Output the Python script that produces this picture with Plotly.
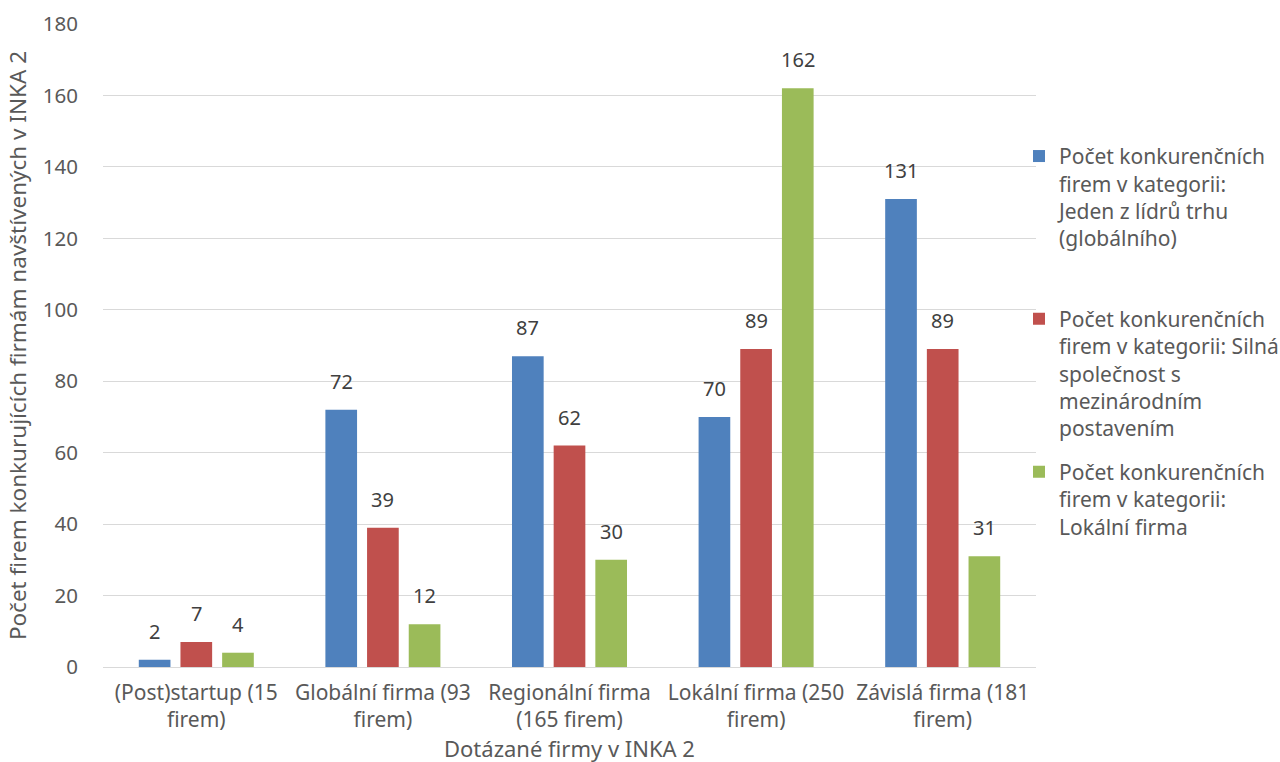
import plotly.graph_objects as go

# Categories of surveyed firms and counts of competing firms per category
categories = [
    "(Post)startup (15<br>firem)",
    "Globální firma (93<br>firem)",
    "Regionální firma<br>(165 firem)",
    "Lokální firma (250<br>firem)",
    "Závislá firma (181<br>firem)",
]
series_names = [
    "Počet konkurenčních<br>firem v kategorii:<br>Jeden z lídrů trhu<br>(globálního)",
    "Počet konkurenčních<br>firem v kategorii: Silná<br>společnost s<br>mezinárodním<br>postavením",
    "Počet konkurenčních<br>firem v kategorii:<br>Lokální firma",
]
leaders = [2, 72, 87, 70, 131]
strong_intl = [7, 39, 62, 89, 89]
local = [4, 12, 30, 162, 31]

x_title = "Dotázané firmy v INKA 2"
y_title = "Počet firem konkurujících firmám navštívených v INKA 2"

colors = ["#4F81BD", "#C0504D", "#9BBB59"]
values = [leaders, strong_intl, local]
legend_ids = ["legend", "legend2", "legend3"]
legend_tops = [0.826, 0.573, 0.335]

FONT = "Noto Sans"
TEXT_COLOR = "#595959"
LABEL_COLOR = "#404040"

W, H = 1280, 762
M_L, M_R, M_T, M_B = 103, 244, 24, 95
BARGAP, BARGROUPGAP = 0.33, 0.24

# horizontal offset of each series' bar centre inside its category group
plot_w = W - M_L - M_R
slot = plot_w / len(categories)
per_bar = slot * (1 - BARGAP) / len(values)

fig = go.Figure()
for i, (name, vals, col, lg) in enumerate(zip(series_names, values, colors, legend_ids)):
    fig.add_trace(go.Bar(
        x=categories,
        y=vals,
        name=name,
        marker=dict(color=col, line=dict(width=0)),
        legend=lg,
        showlegend=True,
    ))
    shift = (i - (len(values) - 1) / 2) * per_bar
    for cat, v in zip(categories, vals):
        fig.add_annotation(
            x=cat, y=v, text=str(v), showarrow=False,
            xref="x", yref="y", xanchor="center", yanchor="bottom",
            xshift=shift, yshift=13,
            font=dict(family=FONT, size=20, color=LABEL_COLOR),
        )

# x-axis title sits low, right at the bottom edge of the page
fig.add_annotation(
    x=0.5, y=0, xref="paper", yref="paper",
    xanchor="center", yanchor="bottom", yshift=-98,
    text=x_title, showarrow=False,
    font=dict(family=FONT, size=22, color=TEXT_COLOR),
)

legend_style = dict(
    x=(1019 - M_L) / plot_w, xanchor="left", yanchor="top",
    font=dict(family=FONT, size=21, color=TEXT_COLOR),
    bgcolor="rgba(0,0,0,0)", valign="top",
)

fig.update_layout(
    width=W, height=H,
    margin=dict(l=M_L, r=M_R, t=M_T, b=M_B, autoexpand=False),
    paper_bgcolor="white", plot_bgcolor="white",
    barmode="group", bargap=BARGAP, bargroupgap=BARGROUPGAP,
    showlegend=True,
    font=dict(family=FONT, size=20, color=TEXT_COLOR),
    legend=dict(**legend_style, y=legend_tops[0]),
    legend2=dict(**legend_style, y=legend_tops[1]),
    legend3=dict(**legend_style, y=legend_tops[2]),
    yaxis=dict(
        range=[0, 180], dtick=20, showgrid=True,
        gridcolor="#D9D9D9", gridwidth=1.3,
        zeroline=True, zerolinecolor="#D9D9D9", zerolinewidth=1.3,
        showline=False, ticks="", ticklen=0, ticklabelstandoff=24,
        tickfont=dict(family=FONT, size=20.5, color=TEXT_COLOR),
        title=dict(
            text=y_title,
            font=dict(family=FONT, size=22.5, color=TEXT_COLOR),
            standoff=9,
        ),
    ),
    xaxis=dict(
        showline=False, ticks="", showgrid=False, ticklabelstandoff=11,
        tickfont=dict(family=FONT, size=21, color=TEXT_COLOR),
    ),
)

fig.write_html("out.html")
